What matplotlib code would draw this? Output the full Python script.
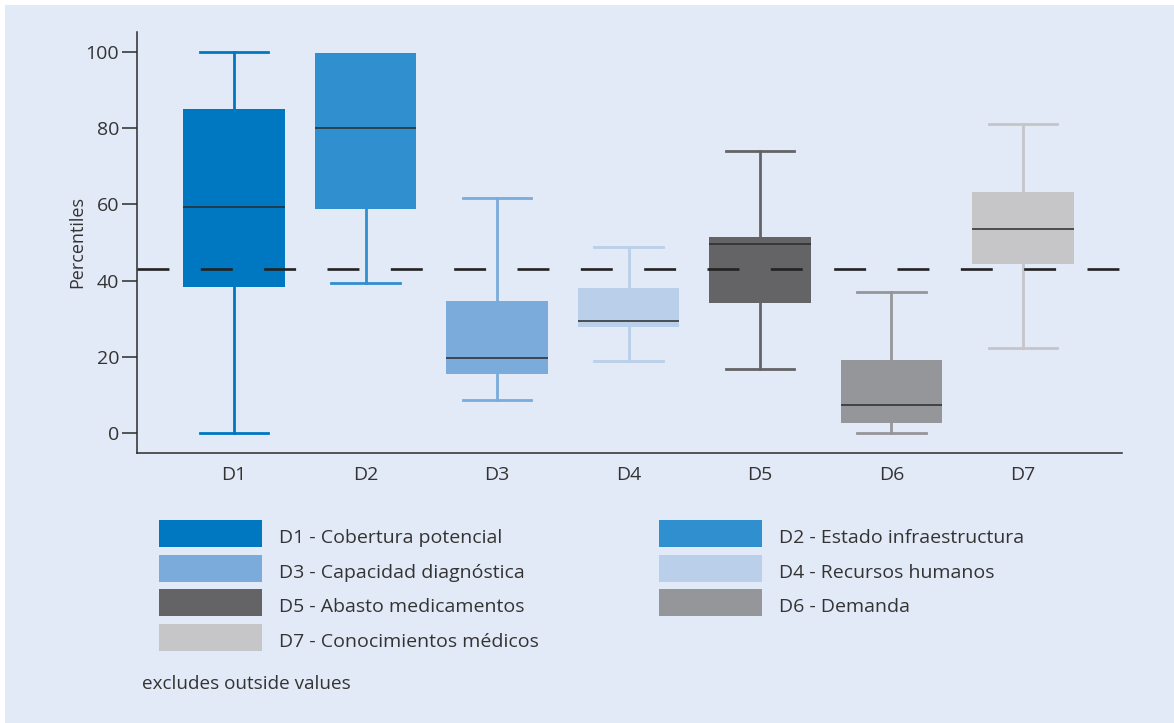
import matplotlib
matplotlib.use("Agg")
from matplotlib import pyplot as plt
from matplotlib.patches import Rectangle

plt.rcParams['font.family'] = ['Open Sans', 'DejaVu Sans']
plt.rcParams['lines.scale_dashes'] = False

# box statistics (percentiles)
labels = ["D1", "D2", "D3", "D4", "D5", "D6", "D7"]
whislo = [0.0, 39.4, 8.7, 18.9, 16.8, 0.0, 22.3]
q1 = [38.3, 58.8, 15.5, 27.8, 34.1, 2.6, 44.4]
med = [59.3, 80.0, 19.7, 29.4, 49.6, 7.3, 53.5]
q3 = [85.0, 99.8, 34.6, 38.1, 51.4, 19.2, 63.3]
whishi = [100.0, 99.8, 61.7, 48.8, 74.0, 37.0, 81.1]
reference = 43.0

names = ["D1 - Cobertura potencial", "D2 - Estado infraestructura",
         "D3 - Capacidad diagnóstica", "D4 - Recursos humanos",
         "D5 - Abasto medicamentos", "D6 - Demanda",
         "D7 - Conocimientos médicos"]
colors = ["#0077c1", "#308fcf", "#7aabdb", "#b9cfea", "#646467", "#959699", "#c6c6c8"]
bg = "#e3eaf7"
ink = "#2b2b2b"

W, H = 1174, 723
fig = plt.figure(figsize=(W / 100, H / 100), dpi=100, facecolor="white")
fig.add_artist(Rectangle((5 / W, 0), 1, 1 - 5 / H, transform=fig.transFigure,
                         facecolor=bg, edgecolor="none", zorder=-10))

ax = fig.add_axes([137 / W, 1 - 453 / H, (1122 - 137) / W, (453 - 32) / H])
ax.set_facecolor(bg)
ax.patch.set_alpha(0)

stats = []
for i in range(len(labels)):
    stats.append(dict(label=labels[i], whislo=whislo[i], q1=q1[i], med=med[i],
                      q3=q3[i], whishi=whishi[i], fliers=[]))

bp = ax.bxp(stats, positions=range(1, 8), widths=0.77, patch_artist=True,
            showfliers=False, capwidths=0.52)
for i, c in enumerate(colors):
    bp['boxes'][i].set(facecolor=c, edgecolor=c, linewidth=0, zorder=3)
    for w in bp['whiskers'][2 * i:2 * i + 2]:
        w.set(color=c, linewidth=2.0, zorder=2)
    for cap in bp['caps'][2 * i:2 * i + 2]:
        cap.set(color=c, linewidth=2.0, zorder=2)
    # no whisker drawn when it coincides with the box edge
    if whishi[i] <= q3[i]:
        bp['caps'][2 * i + 1].set_visible(False)
    if whislo[i] >= q1[i]:
        bp['caps'][2 * i].set_visible(False)
    bp['medians'][i].set(color=ink, linewidth=1.1, zorder=4)

ax.axhline(reference, color="#222222", linewidth=1.9,
           linestyle=(0, (23, 22.6)), zorder=5)

ax.set_xlim(0.262, 7.753)
ax.set_ylim(-5.25, 105.2)
ax.set_yticks([0, 20, 40, 60, 80, 100])
ax.set_xticks(range(1, 8))
ax.set_xticklabels(labels)
ax.tick_params(axis='y', length=10.8, width=1.1, color=ink, labelsize=14,
               labelcolor="#333333", pad=2)
ax.tick_params(axis='x', length=0, labelsize=14, labelcolor="#333333", pad=9)
for s in ["top", "right"]:
    ax.spines[s].set_visible(False)
for s in ["left", "bottom"]:
    ax.spines[s].set_color(ink)
    ax.spines[s].set_linewidth(1.1)
ax.set_ylabel("Percentiles", fontsize=13, color="#333333")
ax.yaxis.set_label_coords(-0.052, 0.5)

# legend, two columns
rows = [533.5, 568.5, 602, 637.5]
order = [0, 2, 4, 6, 1, 3, 5]
for k, idx in enumerate(order):
    col = 0 if k < 4 else 1
    row = rows[k if k < 4 else k - 4]
    x0 = 159 if col == 0 else 659
    fig.add_artist(Rectangle((x0 / W, 1 - (row + 13.5) / H), 103 / W, 27 / H,
                             transform=fig.transFigure, facecolor=colors[idx],
                             edgecolor="none"))
    fig.text((x0 + 120) / W, 1 - (row + 4.5) / H, names[idx], fontsize=14,
             color="#333333", va="center", ha="left")

fig.text(142 / W, 1 - 684 / H, "excludes outside values", fontsize=13.6,
         color="#333333", va="center", ha="left")

fig.savefig("out.png", dpi=100, facecolor=fig.get_facecolor())
